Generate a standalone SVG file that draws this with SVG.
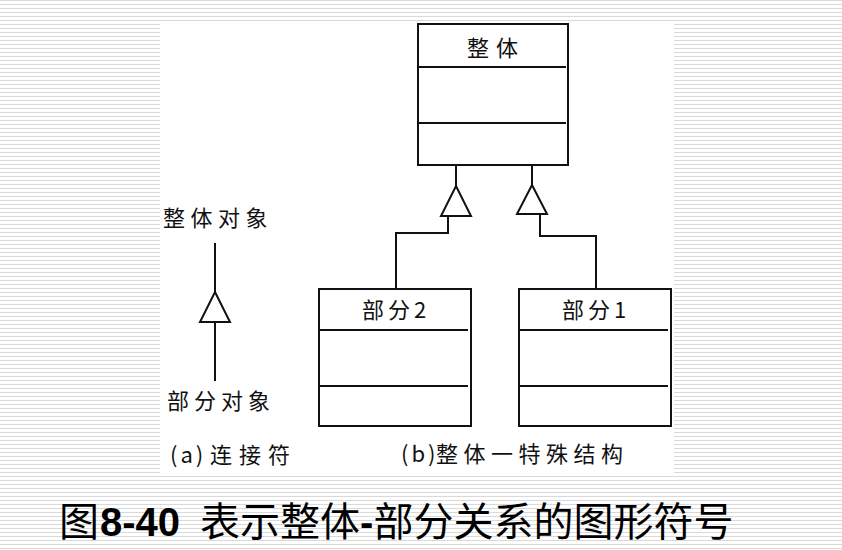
<svg xmlns="http://www.w3.org/2000/svg" width="842" height="550" viewBox="0 0 842 550">
<defs>
<pattern id="stripes" x="0" y="0" width="8" height="4" patternUnits="userSpaceOnUse">
<rect x="0" y="0" width="8" height="1" fill="#d9d9d9"/>
</pattern>
<style>
.box{fill:none;stroke:#111;stroke-width:2}
.ln{fill:none;stroke:#111;stroke-width:2}
.tri{fill:#fff;stroke:#111;stroke-width:2;stroke-linejoin:miter}
.t{font-family:"Noto Sans CJK SC","Noto Sans CJK JP",sans-serif;font-size:22px;fill:#111}
.cap{font-family:"Noto Sans CJK SC","Noto Sans CJK JP",sans-serif;font-size:40px;fill:#000}
.capn{font-family:"Liberation Sans",Arial,sans-serif;font-weight:bold;font-size:40px;fill:#000}
</style>
</defs>
<rect width="842" height="550" fill="#fff"/>
<rect width="842" height="550" fill="url(#stripes)"/>
<rect x="160" y="21" width="514" height="454" fill="#fff"/>

<g id="whole">
<rect class="box" x="418" y="24" width="150" height="141"/>
<line class="ln" x1="418" y1="67" x2="566" y2="67"/>
<line class="ln" x1="418" y1="123" x2="566" y2="123"/>
<text class="t" x="467" y="56" letter-spacing="7">整体</text>
</g>

<g id="part2">
<rect class="box" x="319" y="289" width="152" height="137"/>
<line class="ln" x1="319" y1="330" x2="468" y2="330"/>
<line class="ln" x1="319" y1="386" x2="468" y2="386"/>
<text class="t" x="362" y="318" letter-spacing="4">部分2</text>
</g>

<g id="part1">
<rect class="box" x="519" y="289" width="152" height="137"/>
<line class="ln" x1="519" y1="330" x2="668" y2="330"/>
<line class="ln" x1="519" y1="386" x2="668" y2="386"/>
<text class="t" x="562" y="318" letter-spacing="4">部分1</text>
</g>

<g id="legend">
<text class="t" x="163" y="226" letter-spacing="5.5">整体对象</text>
<text class="t" x="167" y="409" letter-spacing="5">部分对象</text>
</g>

<g id="connectors">
<line class="ln" x1="215" y1="243" x2="215" y2="292"/>
<line class="ln" x1="215" y1="322" x2="215" y2="381"/>
<polygon class="tri" points="215,292 230,322 200,322"/>

<line class="ln" x1="456" y1="165" x2="456" y2="186"/>
<polygon class="tri" points="456,186 471,216 441,216"/>
<polyline class="ln" points="448,216 448,233 396,233 396,289"/>

<line class="ln" x1="532" y1="165" x2="532" y2="185"/>
<polygon class="tri" points="532,185 547,214 517,214"/>
<polyline class="ln" points="540,214 540,236 596,236 596,289"/>
</g>

<g id="labels">
<text class="t" y="463"><tspan x="170" letter-spacing="3">(a)</tspan><tspan x="210" letter-spacing="7">连接符</tspan></text>
<text class="t" y="462"><tspan x="401" letter-spacing="3">(b)</tspan><tspan x="436" letter-spacing="5.5">整体一特殊结构</tspan></text>
</g>

<g id="caption">
<text x="59" y="536"><tspan class="cap">图</tspan><tspan class="capn" dx="1">8-40</tspan><tspan class="cap" dx="20">表示整体</tspan><tspan class="capn">-</tspan><tspan class="cap">部分关系的图形符号</tspan></text>
</g>
</svg>
